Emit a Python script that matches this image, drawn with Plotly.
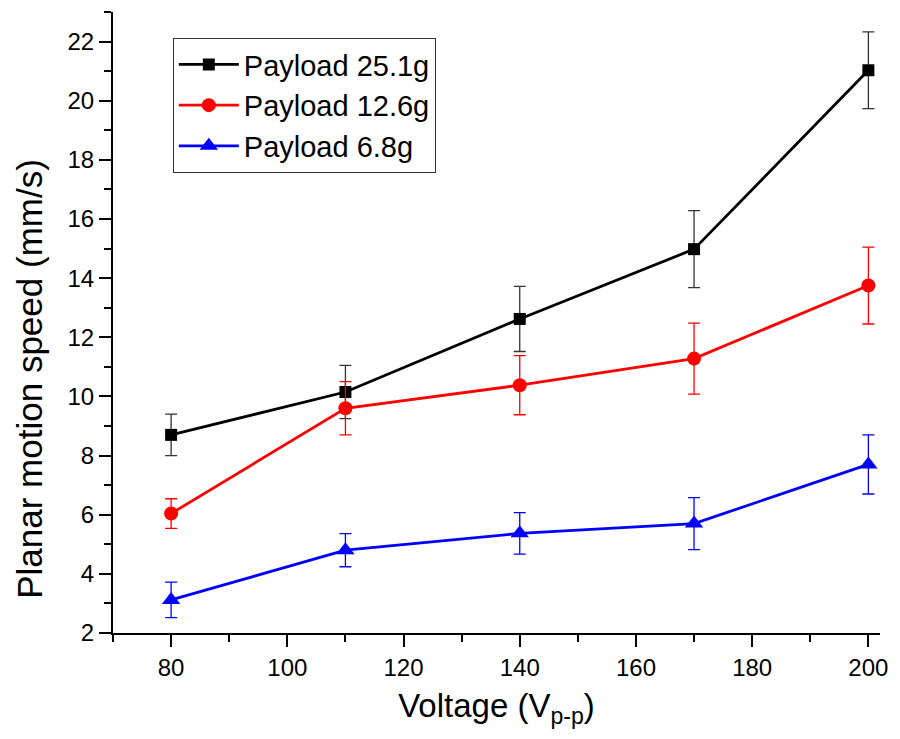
import plotly.graph_objects as go

voltage = [80, 110, 140, 170, 200]
speed_25 = [8.70, 10.15, 12.62, 14.98, 21.03]
err_25 = [0.70, 0.90, 1.10, 1.30, 1.30]
speed_12 = [6.04, 9.60, 10.38, 11.28, 13.75]
err_12 = [0.50, 0.90, 1.00, 1.20, 1.30]
speed_6 = [3.12, 4.80, 5.37, 5.70, 7.70]
err_6 = [0.60, 0.56, 0.70, 0.88, 1.00]

x_title = "Voltage (V<sub>p-p</sub>)"
y_title = "Planar motion speed (mm/s)"

series = [
    ("Payload 25.1g", speed_25, err_25, "black", "#333333", "square", 12),
    ("Payload 12.6g", speed_12, err_12, "red", "red", "circle", 14),
    ("Payload 6.8g", speed_6, err_6, "blue", "blue", "triangle-up", 16),
]

fig = go.Figure()
for name, y, e, col, ecol, sym, sz in series:
    fig.add_trace(go.Scatter(
        x=voltage, y=y, name=name, mode="lines+markers",
        line=dict(color=col, width=2.8),
        marker=dict(symbol=sym, size=sz, color=col),
        error_y=dict(type="data", array=e, visible=True, color=ecol, thickness=1.3, width=6),
    ))

font = "Liberation Sans, Arial, sans-serif"
fig.update_layout(
    width=900, height=739,
    margin=dict(l=113, r=15, t=12, b=106),
    paper_bgcolor="white", plot_bgcolor="white",
    font=dict(family=font, color="black"),
    showlegend=True,
    legend=dict(
        x=0.078, y=0.958, xanchor="left", yanchor="top",
        bordercolor="#333333", borderwidth=1, bgcolor="white",
        font=dict(size=29, family=font), tracegroupgap=0, itemwidth=60,
    ),
    xaxis=dict(
        range=[70, 202], tickmode="array", tickvals=[80, 100, 120, 140, 160, 180, 200],
        showline=True, linecolor="black", linewidth=2, showgrid=False, zeroline=False,
        ticks="outside", ticklen=12, tickwidth=2, tickcolor="black",
        tickfont=dict(size=24, family=font),
        minor=dict(dtick=10, tick0=70, ticks="outside", ticklen=7, tickwidth=2, tickcolor="black"),
        title=dict(text=x_title, font=dict(size=33, family=font), standoff=14),
    ),
    yaxis=dict(
        range=[2, 23], tickmode="array", tickvals=[2, 4, 6, 8, 10, 12, 14, 16, 18, 20, 22],
        showline=True, linecolor="black", linewidth=2, showgrid=False, zeroline=False,
        ticks="outside", ticklen=12, tickwidth=2, tickcolor="black",
        tickfont=dict(size=24, family=font),
        minor=dict(dtick=1, tick0=2, ticks="outside", ticklen=7, tickwidth=2, tickcolor="black"),
    ),
    annotations=[dict(
        text=y_title, xref="paper", yref="paper", x=-0.109, y=0.41,
        xanchor="center", yanchor="middle", textangle=-90, showarrow=False,
        font=dict(size=35, family=font, color="black"),
    )],
)

fig.write_html("out.html")
